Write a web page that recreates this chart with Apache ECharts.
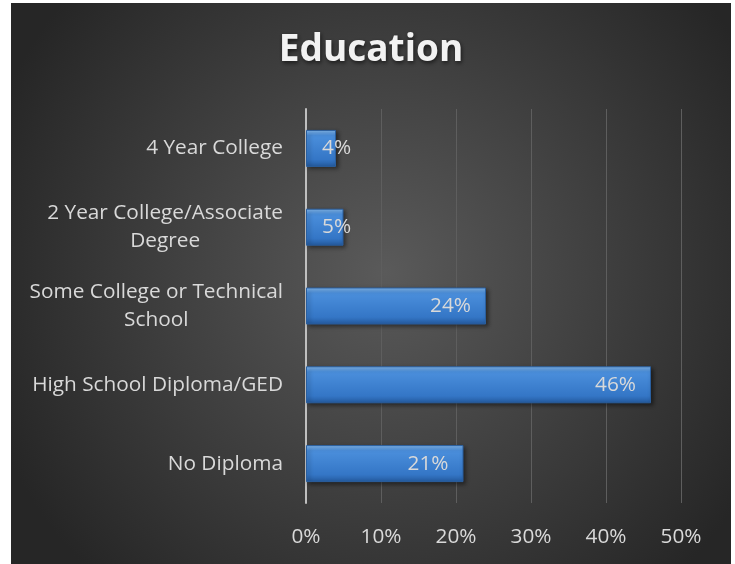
<!DOCTYPE html>
<html>
<head>
<meta charset="utf-8">
<script src="https://cdn.jsdelivr.net/npm/echarts@6/dist/echarts.min.js"></script>
<style>
  html, body { margin: 0; padding: 0; background: #ffffff; }
  #chart { position: absolute; left: 11px; top: 3px; width: 720px; height: 561px; }
</style>
</head>
<body>
<div id="chart"></div>
<script>
// chart data
const categories = [
  "4 Year College",
  "2 Year College/Associate\nDegree",
  "Some College or Technical\nSchool",
  "High School Diploma/GED",
  "No Diploma"
]
const shares = [4, 5, 24, 46, 21]
const tickMax = 50
const tickStep = 10

const chart = echarts.init(document.getElementById("chart"))

const textColor = "#d9d9d9"
const font = "Open Sans"
const fontSize = 20.8

// short bars can't hold their label at the end, so it starts from the axis instead
const barData = shares.map((v) => ({
  value: v,
  label: v < 8 ? { position: "insideLeft", distance: 16 } : undefined
}))

const option = {
  backgroundColor: {
    type: "radial",
    x: 0.52,
    y: 0.48,
    r: 0.75,
    colorStops: [
      { offset: 0, color: "#5a5a5a" },
      { offset: 1, color: "#262626" }
    ]
  },
  title: {
    text: "Education",
    left: "center",
    top: 24,
    textStyle: {
      color: "#f2f2f2",
      fontFamily: font,
      fontSize: 37,
      fontWeight: "bold",
      textShadowColor: "rgba(0,0,0,0.6)",
      textShadowBlur: 4,
      textShadowOffsetX: 1,
      textShadowOffsetY: 2
    }
  },
  grid: {
    left: 295,
    right: 50,
    top: 106,
    bottom: 61
  },
  xAxis: {
    type: "value",
    min: 0,
    max: tickMax,
    interval: tickStep,
    axisLine: { show: false },
    axisTick: { show: false },
    splitLine: { lineStyle: { color: "#5e5e5e", width: 1 } },
    axisLabel: {
      color: textColor,
      fontFamily: font,
      fontSize: fontSize,
      margin: 24,
      formatter: "{value}%"
    }
  },
  yAxis: {
    type: "category",
    inverse: true,
    data: categories,
    axisLine: { show: true, lineStyle: { color: "#bfbfbf", width: 2 } },
    axisTick: { show: false },
    axisLabel: {
      color: textColor,
      fontFamily: font,
      fontSize: fontSize,
      margin: 23,
      lineHeight: 28,
      formatter: (v) => v.split("\n").map((s) => "{c|" + s + "}").join("\n"),
      rich: {
        c: {
          align: "center",
          color: textColor,
          fontFamily: font,
          fontSize: fontSize,
          lineHeight: 28
        }
      }
    }
  },
  series: [
    {
      type: "bar",
      data: barData,
      barWidth: 37,
      itemStyle: {
        color: {
          type: "linear",
          x: 0, y: 0, x2: 0, y2: 1,
          colorStops: [
            { offset: 0, color: "#86bcf2" },
            { offset: 0.15, color: "#4b8fdc" },
            { offset: 0.8, color: "#3476c6" },
            { offset: 1, color: "#245a9e" }
          ]
        },
        borderColor: "#2a5f9f",
        borderWidth: 1,
        shadowColor: "rgba(0,0,0,0.45)",
        shadowBlur: 4,
        shadowOffsetX: 2,
        shadowOffsetY: 2
      },
      label: {
        show: true,
        position: "insideRight",
        distance: 15,
        color: textColor,
        fontFamily: font,
        fontSize: fontSize,
        formatter: "{c}%"
      }
    }
  ]
}

chart.setOption(option)
</script>
</body>
</html>
